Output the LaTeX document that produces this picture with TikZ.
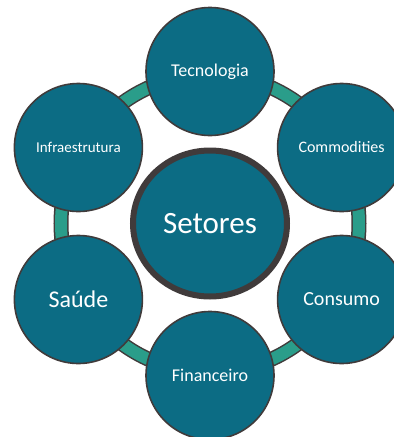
\documentclass[tikz,border=0pt]{standalone}
\usepackage{fontspec}
\setmainfont{Carlito}
\usetikzlibrary{shapes.geometric}
\definecolor{setorfill}{RGB}{12,108,132}
\definecolor{setorline}{RGB}{64,59,59}
\definecolor{anel}{RGB}{42,157,138}
\tikzset{
  setor/.style={circle, fill=setorfill, draw=setorline, line width=1.6pt,
    minimum size=128pt, inner sep=0pt, text=white, align=center},
  nucleo/.style={ellipse, fill=setorfill, draw=setorline, line width=6pt,
    minimum width=154pt, minimum height=146pt, inner sep=0pt, text=white}
}

\begin{document}
\begin{tikzpicture}[x=1pt, y=-1pt]
			%%%%% START %%%%%
			\useasboundingbox (0, 0) rectangle (394, 437);
			\clip (0, 0) rectangle (394, 437);
			
			\coordinate (centro) at (210, 223.5);
			
			% anel de ligacao
			\draw[line width=15pt, color=setorline] (centro) circle (149);
			\draw[line width=12pt, color=anel] (centro) circle (149);
			
			% setores em volta
			\node[setor] (tec) at (210, 71.5) {\fontsize{18}{20}\selectfont Tecnologia};
			\node[setor] (com) at (341.6, 147.5) {\fontsize{16}{18}\selectfont Commodities};
			\node[setor] (con) at (341.6, 299.5) {\fontsize{20}{22}\selectfont Consumo};
			\node[setor] (fin) at (210, 375.5) {\fontsize{18}{20}\selectfont Financeiro};
			\node[setor] (sau) at (78.4, 299.5) {\fontsize{24}{26}\selectfont Saúde};
			\node[setor] (inf) at (78.4, 147.5) {\fontsize{15}{17}\selectfont Infraestrutura};
			
			% centro
			\node[nucleo] (set) at (centro) {\fontsize{31}{33}\selectfont Setores};
			
			%%%%% END %%%%%
\end{tikzpicture}
\end{document}
